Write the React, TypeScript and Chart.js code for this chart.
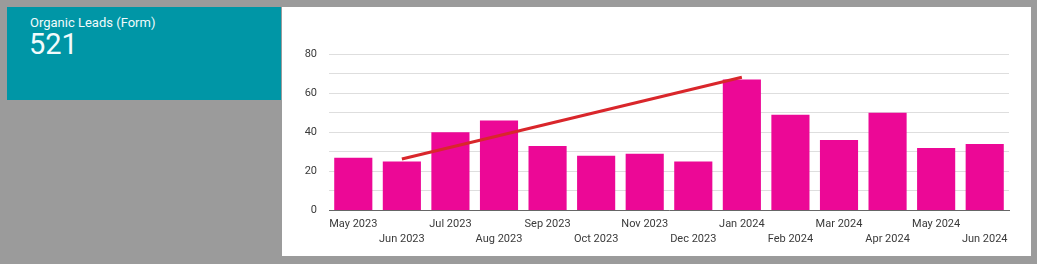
import React, { useEffect, useRef } from "react";
import { Chart, registerables } from "chart.js";

Chart.register(...registerables);

const months = [
  "May 2023", "Jun 2023", "Jul 2023", "Aug 2023", "Sep 2023", "Oct 2023", "Nov 2023",
  "Dec 2023", "Jan 2024", "Feb 2024", "Mar 2024", "Apr 2024", "May 2024", "Jun 2024",
];
const leads = [27, 25, 40, 46, 33, 28, 29, 25, 67, 49, 36, 50, 32, 34];
// hand-drawn trend annotation: from Jun 2023 to Jan 2024
const trend = [null, 26.3, null, null, null, null, null, null, 68.1, null, null, null, null, null];
const yTicks = [0, 20, 40, 60, 80];
const kpiTitle = "Organic Leads (Form)";
const kpiValue = "521";

const FONT = "Roboto, 'Noto Sans', sans-serif";

export default function App() {
  const ref = useRef<HTMLCanvasElement | null>(null);

  useEffect(() => {
    document.body.style.margin = "0";
    const ctx = ref.current!;
    const chart = new Chart(ctx, {
      type: "bar",
      data: {
        labels: months,
        datasets: [
          {
            type: "line",
            data: trend as any,
            borderColor: "#d9262b",
            borderWidth: 3,
            pointRadius: 0,
            spanGaps: true,
            fill: false,
            order: 0,
          } as any,
          {
            type: "bar",
            data: leads,
            backgroundColor: "#ec0896",
            categoryPercentage: 1,
            barPercentage: 0.785,
            order: 1,
          },
        ],
      },
      options: {
        animation: false,
        responsive: false,
        maintainAspectRatio: false,
        layout: { padding: { top: 47, right: 22, bottom: 0, left: 0 } },
        plugins: { legend: { display: false }, tooltip: { enabled: false } },
        scales: {
          x: {
            grid: { display: false, drawTicks: false },
            border: { display: true, color: "#666666", width: 1 },
            ticks: {
              autoSkip: false,
              maxRotation: 0,
              minRotation: 0,
              padding: 6,
              color: "#3a3a3a",
              font: { family: FONT, size: 11, lineHeight: "15px" } as any,
              callback: (_v: any, i: number) => (i % 2 === 0 ? months[i] : ["", months[i]]),
            },
            afterFit: (s: any) => {
              s.height = 45.5;
            },
          },
          y: {
            min: 0,
            max: 80,
            grid: { color: "#dedede", drawTicks: false },
            border: { display: false },
            ticks: {
              stepSize: 10,
              padding: 12,
              color: "#3a3a3a",
              font: { family: FONT, size: 11 },
              callback: (v: any) => (yTicks.includes(Number(v)) ? String(v) : ""),
            },
            afterFit: (s: any) => {
              s.width = 47;
            },
          },
        },
      },
    });
    return () => chart.destroy();
  }, []);

  return (
    <div
      style={{
        position: "fixed",
        left: 0,
        top: 0,
        width: 1037,
        height: 264,
        background: "#9b9b9b",
        overflow: "hidden",
        fontFamily: FONT,
      }}
    >
      <div
        style={{
          position: "absolute",
          left: 7,
          top: 7,
          width: 274,
          height: 93,
          background: "#0096a6",
        }}
      >
        <div
          style={{
            position: "absolute",
            left: 23,
            top: 8.7,
            fontSize: 13,
            lineHeight: "13px",
            color: "#f2fbfc",
            whiteSpace: "nowrap",
          }}
        >
          {kpiTitle}
        </div>
        <div
          style={{
            position: "absolute",
            left: 22,
            top: 22.9,
            fontSize: 29,
            lineHeight: "29px",
            color: "#f2fbfc",
            whiteSpace: "nowrap",
          }}
        >
          {kpiValue}
        </div>
      </div>
      <div
        style={{
          position: "absolute",
          left: 282,
          top: 7,
          width: 749,
          height: 249,
          background: "#ffffff",
        }}
      >
        <canvas ref={ref} width={749} height={249} style={{ display: "block", width: 749, height: 249 }} />
      </div>
    </div>
  );
}
